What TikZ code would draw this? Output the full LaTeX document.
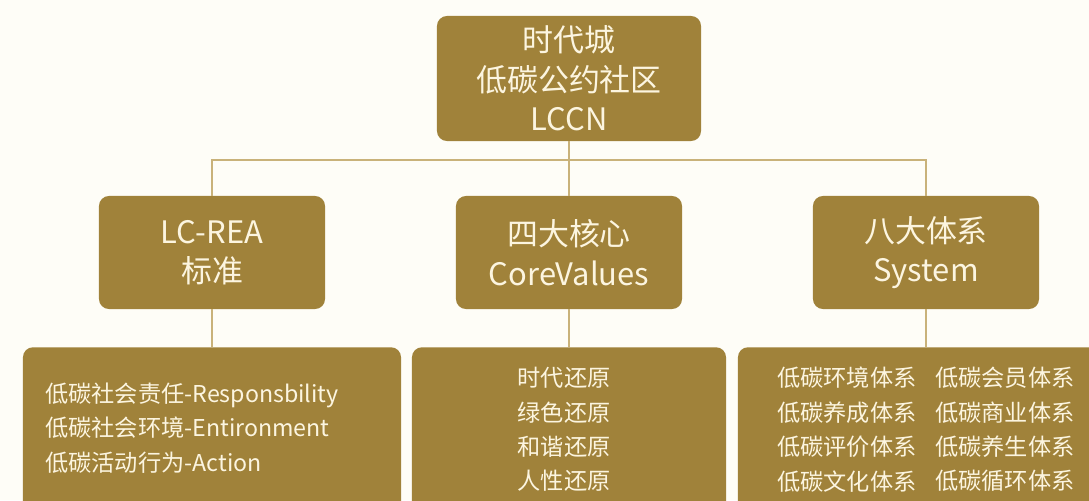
\documentclass[tikz,border=0pt]{standalone}
\usepackage{fontspec}
\setmainfont{Noto Sans CJK SC}
\definecolor{boxgold}{RGB}{160,130,58}
\definecolor{boxtext}{RGB}{252,245,224}
\definecolor{linegold}{RGB}{201,178,122}
\definecolor{paper}{RGB}{254,253,247}
\begin{document}
\begin{tikzpicture}[x=0.025cm,y=-0.025cm,
	box/.style={fill=boxgold, rounded corners=0.25cm, text=boxtext, align=center, inner sep=0pt},
	bigtext/.style={font=\fontsize{22pt}{28pt}\selectfont},
	smalltext/.style={text=boxtext, inner sep=0pt, font=\fontsize{16.5pt}{24.5pt}\selectfont},
	link/.style={draw=linegold, line width=1pt}]
	% Page
	\useasboundingbox (0,0) rectangle (1089,500);
	\fill[paper] (0,0) rectangle (1089,500);
	\clip (0,0) rectangle (1089,500);

	% Top box
	\node[box, bigtext, minimum width=6.6cm, minimum height=3.125cm] (lccn) at (569,78.5) {时代城\\低碳公约社区\\LCCN};

	% Second row
	\node[box, bigtext, minimum width=5.65cm, minimum height=2.825cm] (lcrea) at (212,252.5) {LC-REA\\标准};
	\node[box, bigtext, minimum width=5.65cm, minimum height=2.825cm] (core) at (569,252.5) {四大核心\\CoreValues};
	\node[box, bigtext, minimum width=5.65cm, minimum height=2.825cm] (system) at (926,252.5) {八大体系\\System};

	% Bottom row
	\node[box, anchor=north, minimum width=9.45cm, minimum height=4.25cm] (reabox) at (212,347) {};
	\node[box, anchor=north, minimum width=7.85cm, minimum height=4.25cm] (corebox) at (569,347) {};
	\node[box, anchor=north, minimum width=9.4cm, minimum height=4.25cm] (sysbox) at (926,347) {};

	\node[smalltext, anchor=west, align=left] (realist) at (45,428) {低碳社会责任-Responsbility\\低碳社会环境-Entironment\\低碳活动行为-Action};
	\node[smalltext, align=center] (corelist) at (564,429.5) {时代还原\\绿色还原\\和谐还原\\人性还原};
	\node[smalltext, anchor=west, align=left] (syslistA) at (777,429.5) {低碳环境体系\\低碳养成体系\\低碳评价体系\\低碳文化体系};
	\node[smalltext, anchor=west, align=left] (syslistB) at (935,429.5) {低碳会员体系\\低碳商业体系\\低碳养生体系\\低碳循环体系};

	% Connectors
	\coordinate (hub) at (569,160);
	\draw[link] (lccn.south) -- (core.north);
	\draw[link] (lcrea.north) |- (hub) -| (system.north);
	\draw[link] (lcrea.south) -- (reabox.north);
	\draw[link] (core.south) -- (corebox.north);
	\draw[link] (system.south) -- (sysbox.north);
\end{tikzpicture}
\end{document}
